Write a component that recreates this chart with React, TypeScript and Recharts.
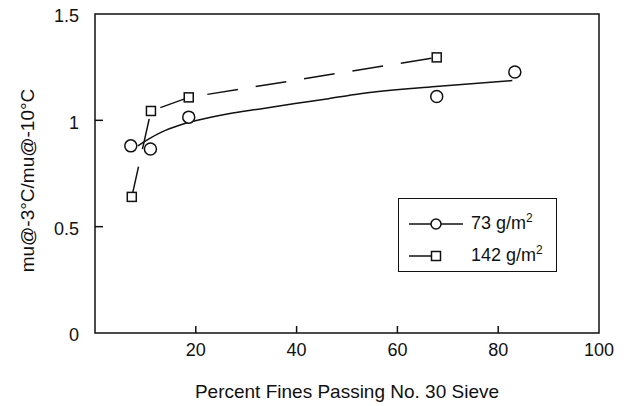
import {
  ComposedChart,
  Label,
  Line,
  ReferenceArea,
  Scatter,
  XAxis,
  YAxis,
} from 'recharts';

const FONT = '"Liberation Sans", Arial, Helvetica, sans-serif';
const INK = '#111';

const X_TICKS = [20, 40, 60, 80, 100];
const Y_TICKS = [0, 0.5, 1, 1.5];

// 73 g/m2 measurements (open circles)
const LIGHT_X = [7.1, 11.0, 18.6, 67.8, 83.3];
const LIGHT_Y = [0.88, 0.865, 1.015, 1.112, 1.227];

// solid trend curve drawn through the 73 g/m2 points
const TREND_X = [8.5, 10.7, 13.3, 16.6, 19.9, 23.2, 26.5, 33.1, 39.7, 46.3, 52.3, 67.6, 82.8];
const TREND_Y = [0.88, 0.913, 0.946, 0.976, 0.998, 1.016, 1.031, 1.055, 1.079, 1.102, 1.124, 1.159, 1.187];

// 142 g/m2 measurements (open squares, dashed)
const HEAVY_X = [7.3, 11.1, 18.6, 67.8];
const HEAVY_Y = [0.64, 1.044, 1.108, 1.296];

const light = LIGHT_X.map((x, i) => ({ x, y: LIGHT_Y[i] }));
const trend = TREND_X.map((x, i) => ({ x, y: TREND_Y[i] }));
const heavy = HEAVY_X.map((x, i) => ({ x, y: HEAVY_Y[i] }));

const Y_GAP = 16;
const X_GAP = 10;

function YTick(props: any) {
  const { x, y, payload } = props;
  const axisX = x + Y_GAP;
  const inner = payload.value > 0 && payload.value < 1.5;
  return (
    <g>
      {inner && <line stroke={INK} strokeWidth={1.5} x1={axisX} x2={axisX + 8} y1={y} y2={y} />}
      <text dy="0.355em" fill={INK} fontFamily={FONT} fontSize={18} textAnchor="end" x={x} y={y + 2}>
        {String(payload.value)}
      </text>
    </g>
  );
}

function XTick(props: any) {
  const { x, y, payload } = props;
  const axisY = y - X_GAP;
  const inner = payload.value < 100;
  return (
    <g>
      {inner && <line stroke={INK} strokeWidth={1.5} x1={x} x2={x} y1={axisY} y2={axisY - 7} />}
      <text dy="0.72em" fill={INK} fontFamily={FONT} fontSize={18} textAnchor="middle" x={x} y={y}>
        {String(payload.value)}
      </text>
    </g>
  );
}

function CircleDot(props: any) {
  const { cx, cy } = props;
  return <circle cx={cx} cy={cy} fill="#fff" r={6} stroke={INK} strokeWidth={1.5} />;
}

function SquareDot(props: any) {
  const { cx, cy, index } = props;
  return (
    <rect fill="#fff" height={9} key={`sq-${index}`} stroke={INK} strokeWidth={1.5} width={9} x={cx - 4.5} y={cy - 4.5} />
  );
}

function LegendBox() {
  const text = { fontFamily: FONT, fontSize: 18, color: INK, lineHeight: '18px' };
  return (
    <div
      style={{
        position: 'absolute',
        left: 398,
        top: 198,
        width: 157,
        height: 72,
        border: `1.5px solid ${INK}`,
        background: '#fff',
      }}
    >
      <svg height={72} style={{ position: 'absolute', left: 0, top: 0 }} width={70}>
        <line stroke={INK} strokeWidth={1.5} x1={10} x2={64} y1={25} y2={25} />
        <circle cx={37} cy={25} fill="#fff" r={5} stroke={INK} strokeWidth={1.5} />
        <line stroke={INK} strokeWidth={1.5} x1={10} x2={33} y1={57} y2={57} />
        <rect fill="#fff" height={9} stroke={INK} strokeWidth={1.5} width={9} x={32.5} y={52.5} />
      </svg>
      <div style={{ ...text, position: 'absolute', left: 72, top: 15 }}>
        73 g/m<sup style={{ fontSize: 12, lineHeight: 0 }}>2</sup>
      </div>
      <div style={{ ...text, position: 'absolute', left: 72, top: 47 }}>
        142 g/m<sup style={{ fontSize: 12, lineHeight: 0 }}>2</sup>
      </div>
    </div>
  );
}

export default function App() {
  return (
    <div style={{ position: 'absolute', left: 0, top: 0, width: 629, height: 406, background: '#fff' }}>
      <ComposedChart height={406} margin={{ top: 14, right: 30, bottom: 0, left: 0 }} width={629}>
        <XAxis
          axisLine={false}
          dataKey="x"
          domain={[0, 100]}
          height={73}
          tick={<XTick />}
          tickLine={false}
          tickMargin={X_GAP}
          tickSize={0}
          ticks={X_TICKS}
          type="number"
        >
          <Label
            content={(p: any) => (
              <text
                dy="0.355em"
                fill={INK}
                fontFamily={FONT}
                fontSize={19}
                textAnchor="middle"
                x={p.viewBox.x + p.viewBox.width / 2}
                y={p.viewBox.y + 58}
              >
                Percent Fines Passing No. 30 Sieve
              </text>
            )}
          />
        </XAxis>
        <YAxis
          axisLine={false}
          dataKey="y"
          domain={[0, 1.5]}
          tick={<YTick />}
          tickLine={false}
          tickMargin={Y_GAP}
          tickSize={0}
          ticks={Y_TICKS}
          type="number"
          width={95}
        >
          <Label
            content={(p: any) => {
              const cx = p.viewBox.x + 27;
              const cy = p.viewBox.y + p.viewBox.height / 2 + 7;
              return (
                <text
                  dy="0.355em"
                  fill={INK}
                  fontFamily={FONT}
                  fontSize={19}
                  textAnchor="middle"
                  transform={`rotate(-90, ${cx}, ${cy})`}
                  x={cx}
                  y={cy}
                >
                  mu@-3°C/mu@-10°C
                </text>
              );
            }}
          />
        </YAxis>
        <ReferenceArea fill="none" stroke={INK} strokeWidth={1.5} x1={0} x2={100} y1={0} y2={1.5} />
        <Line
          data={trend}
          dataKey="y"
          dot={false}
          isAnimationActive={false}
          stroke={INK}
          strokeWidth={1.5}
          type="monotone"
        />
        <Line
          data={heavy}
          dataKey="y"
          dot={SquareDot}
          isAnimationActive={false}
          stroke={INK}
          strokeDasharray="31 18"
          strokeWidth={1.5}
          type="linear"
        />
        <Scatter data={light} dataKey="y" isAnimationActive={false} shape={CircleDot} />
      </ComposedChart>
      <LegendBox />
    </div>
  );
}
